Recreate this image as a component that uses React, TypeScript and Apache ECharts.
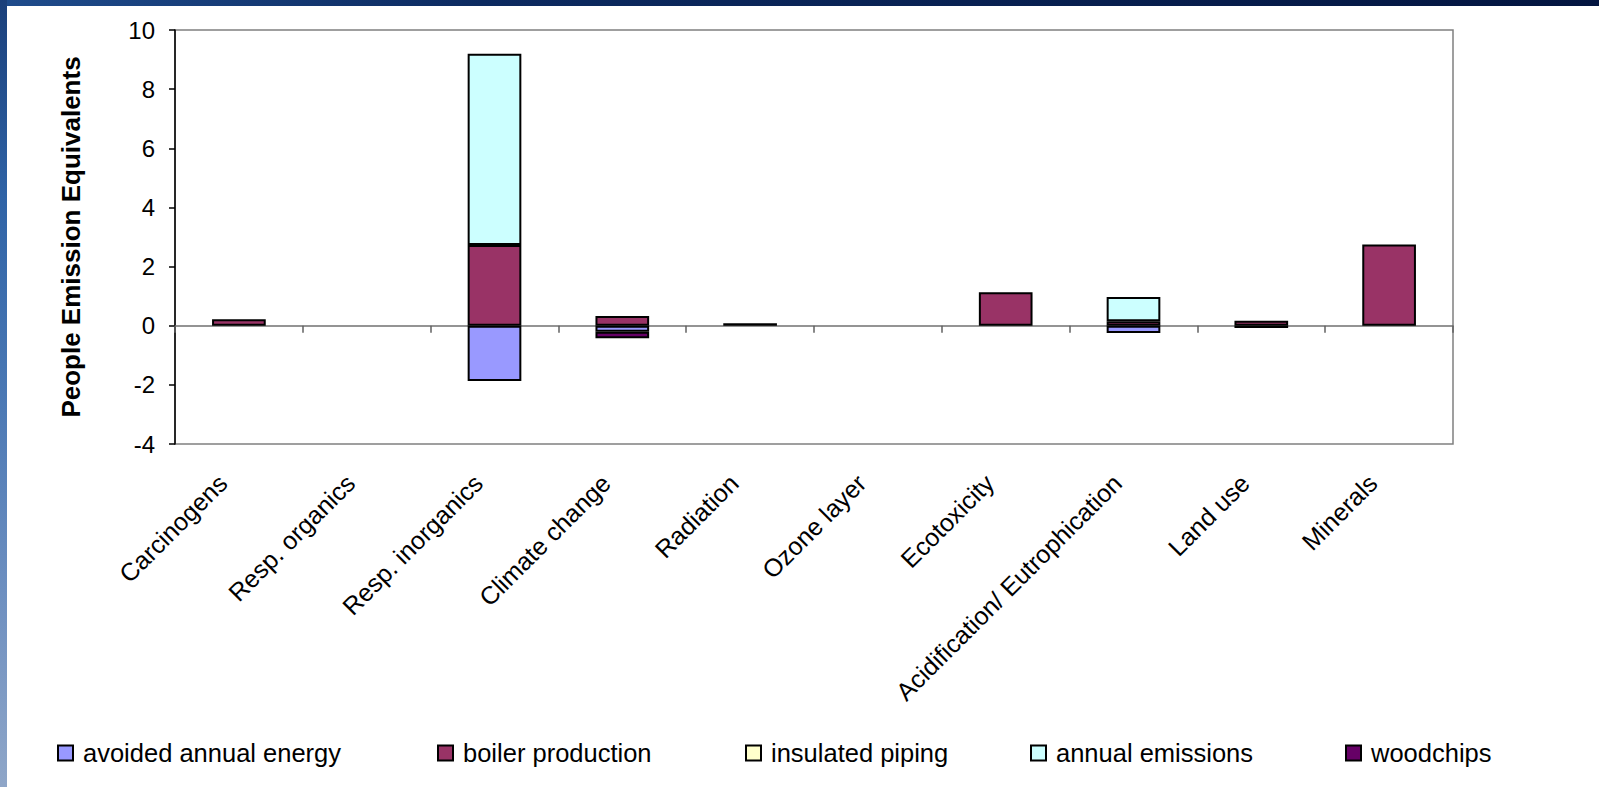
import React, { useEffect, useRef } from "react";
import * as echarts from "echarts";

// Impact categories along the x axis
const categories = [
  "Carcinogens",
  "Resp. organics",
  "Resp. inorganics",
  "Climate change",
  "Radiation",
  "Ozone layer",
  "Ecotoxicity",
  "Acidification/ Eutrophication",
  "Land use",
  "Minerals",
];

// Stacked contributions per category (people emission equivalents)
const avoidedAnnualEnergy = [null, null, -1.87, -0.2, null, null, null, -0.25, null, null];
const boilerProduction = [0.22, null, 2.73, 0.33, 0.08, null, 1.13, 0.15, 0.17, 2.75];
const insulatedPiping = [null, null, null, null, null, null, null, null, null, null];
const annualEmissions = [null, null, 6.47, null, null, null, null, 0.82, null, null];
const woodchips = [null, null, null, -0.22, null, null, null, null, -0.08, null];

const seriesNames = [
  "avoided annual energy",
  "boiler production",
  "insulated piping",
  "annual emissions",
  "woodchips",
];
const seriesColors = ["#9999FF", "#993366", "#FFFFCC", "#CCFFFF", "#660066"];
const seriesValues = [avoidedAnnualEnergy, boilerProduction, insulatedPiping, annualEmissions, woodchips];

// Value axis range
const yMin = -4;
const yMax = 10;
const yStep = 2;

// Left edge of each legend entry
const legendLeft = [57, 437, 745, 1030, 1345];

const FONT = "'Liberation Sans', Arial, Helvetica, sans-serif";

export default function App() {
  const ref = useRef<HTMLDivElement>(null);

  useEffect(() => {
    if (!ref.current) return;
    const chart = echarts.init(ref.current, undefined, { renderer: "svg" });

    const option: any = {
      animation: false,
      backgroundColor: "#ffffff",
      textStyle: { fontFamily: FONT, color: "#000" },
      graphic: [
        {
          type: "rect",
          shape: { x: 0, y: 0, width: 1599, height: 6 },
          style: {
            fill: new echarts.graphic.LinearGradient(0, 0, 1, 0, [
              { offset: 0, color: "#1f4c8c" },
              { offset: 0.3, color: "#0c2a60" },
              { offset: 1, color: "#031540" },
            ]),
          },
          silent: true,
        },
        {
          type: "rect",
          shape: { x: 0, y: 0, width: 7, height: 787 },
          style: {
            fill: new echarts.graphic.LinearGradient(0, 0, 0, 1, [
              { offset: 0, color: "#1a3f7a" },
              { offset: 0.25, color: "#2f63a6" },
              { offset: 0.5, color: "#4a78b4" },
              { offset: 0.75, color: "#6d8fc0" },
              { offset: 1, color: "#8fa6c8" },
            ]),
          },
          silent: true,
        },
      ],
      grid: {
        left: 175,
        top: 30,
        right: 146,
        bottom: 343,
        show: true,
        backgroundColor: "#ffffff",
        borderColor: "#808080",
        borderWidth: 1.5,
      },
      legend: seriesNames.map((name, i) => ({
        data: [name],
        left: legendLeft[i],
        top: 738,
        padding: 0,
        itemWidth: 15,
        itemHeight: 15,
        icon: "rect",
        selectedMode: false,
        textStyle: {
          fontFamily: FONT,
          fontSize: 25.5,
          color: "#000",
          lineHeight: 30,
          padding: [0, 0, 0, 5],
        },
      })),
      xAxis: [
        {
          type: "category",
          data: categories,
          position: "bottom",
          boundaryGap: true,
          axisLine: { show: true, onZero: true, lineStyle: { color: "#707070", width: 1.5 } },
          axisTick: { show: true, length: 7, interval: 0, lineStyle: { color: "#606060", width: 1.5 } },
          axisLabel: { show: false },
          splitLine: { show: false },
        },
        {
          type: "category",
          data: categories,
          position: "bottom",
          boundaryGap: true,
          axisLine: { show: false, onZero: false },
          axisTick: { show: false },
          axisLabel: {
            show: true,
            interval: 0,
            rotate: 45,
            fontFamily: FONT,
            fontSize: 25,
            color: "#000",
            verticalAlign: "bottom",
            lineHeight: 46,
            margin: 51,
          },
          splitLine: { show: false },
        },
      ],
      yAxis: {
        type: "value",
        min: yMin,
        max: yMax,
        interval: yStep,
        name: "People Emission Equivalents",
        nameLocation: "middle",
        nameRotate: 90,
        nameGap: 91,
        nameTextStyle: { fontFamily: FONT, fontSize: 26, fontWeight: "bold", color: "#000" },
        axisLine: { show: true, lineStyle: { color: "#000", width: 1.5 } },
        axisTick: { show: true, length: 6, lineStyle: { color: "#000", width: 1.5 } },
        axisLabel: { fontFamily: FONT, fontSize: 24, color: "#000", margin: 20 },
        splitLine: { show: false },
      },
      series: seriesNames.map((name, i) => ({
        name,
        type: "bar",
        stack: "impact",
        xAxisIndex: 0,
        barWidth: "42%",
        data: seriesValues[i],
        itemStyle: { color: seriesColors[i], borderColor: "#000", borderWidth: 2 },
        emphasis: { disabled: true },
      })),
    };

    chart.setOption(option);
    return () => chart.dispose();
  }, []);

  return (
    <div
      ref={ref}
      style={{ position: "absolute", left: 0, top: 0, width: 1599, height: 787 }}
    />
  );
}
